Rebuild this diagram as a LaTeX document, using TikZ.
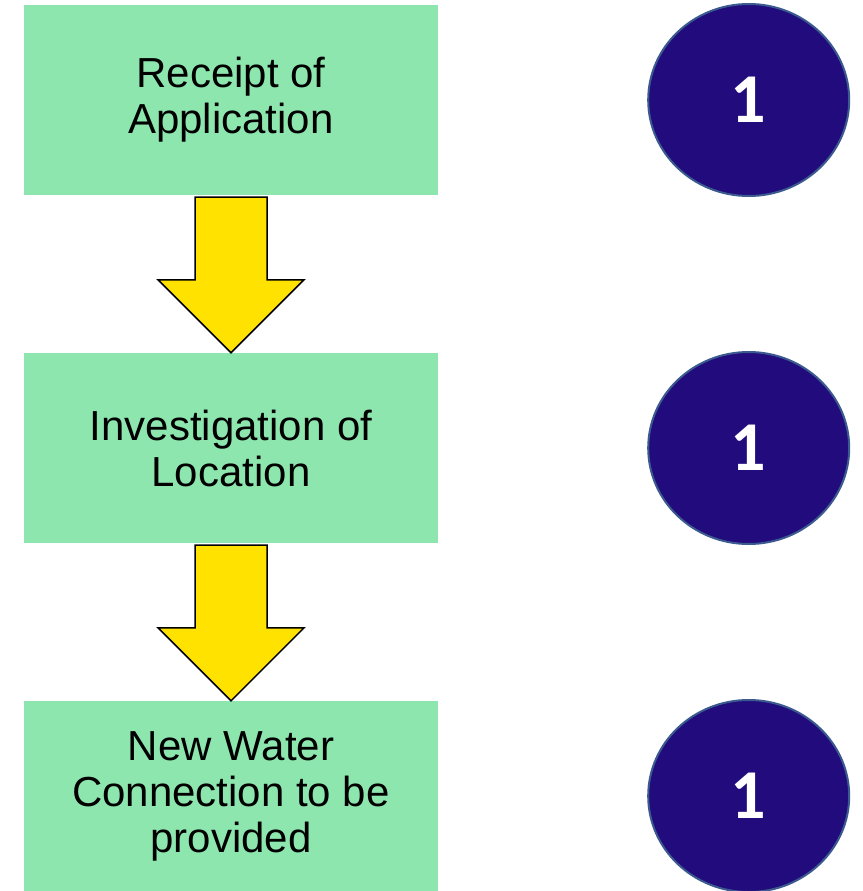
\documentclass[tikz,border=0pt]{standalone}
\usepackage{fontspec}
\setmainfont{Liberation Sans}
\newfontfamily\badgefont{Carlito}
\usepackage{tikz}
\usetikzlibrary{positioning,calc,shapes.geometric}

\definecolor{stepgreen}{HTML}{8EE6AF}
\definecolor{badgeblue}{HTML}{220B7C}
\definecolor{badgeline}{HTML}{3B5A8F}
\definecolor{arrowyellow}{HTML}{FFE200}

\tikzset{
  stepbox/.style={fill=stepgreen,minimum width=414pt,minimum height=190pt,align=center,
    font=\fontsize{42}{46}\selectfont,inner sep=0pt},
  badge/.style={ellipse,fill=badgeblue,draw=badgeline,line width=2pt,minimum width=201pt,
    minimum height=192pt,text=white,font=\badgefont\bfseries\fontsize{70}{70}\selectfont,inner sep=0pt},
  blockarrow/.style={fill=arrowyellow,draw=black,line width=1.5pt,line join=miter}
}

\begin{document}
\begin{tikzpicture}[x=1pt,y=-1pt]
\useasboundingbox (0,0) rectangle (862,891);
\node[stepbox] (r1) at (231,100) {Receipt of\\Application};
\node[stepbox] (r2) at (231,448) {Investigation of\\Location};
\node[stepbox] (r3) at (231,796) {New Water\\Connection to be\\provided};
\node[badge,right=209pt of r1] (c1) {\raisebox{-3pt}{1}};
\node[badge,right=209pt of r2] (c2) {\raisebox{-3pt}{1}};
\node[badge,right=209pt of r3] (c3) {\raisebox{-3pt}{1}};
% block arrows between the steps
\draw[blockarrow] ($(r1.south)+(-36,2)$) -- ($(r2.north)+(-36,-73)$) -- ($(r2.north)+(-73,-73)$) -- (r2.north)
  -- ($(r2.north)+(73,-73)$) -- ($(r2.north)+(36,-73)$) -- ($(r1.south)+(36,2)$) -- cycle;
\draw[blockarrow] ($(r2.south)+(-36,2)$) -- ($(r3.north)+(-36,-73)$) -- ($(r3.north)+(-73,-73)$) -- (r3.north)
  -- ($(r3.north)+(73,-73)$) -- ($(r3.north)+(36,-73)$) -- ($(r2.south)+(36,2)$) -- cycle;
\end{tikzpicture}
\end{document}
